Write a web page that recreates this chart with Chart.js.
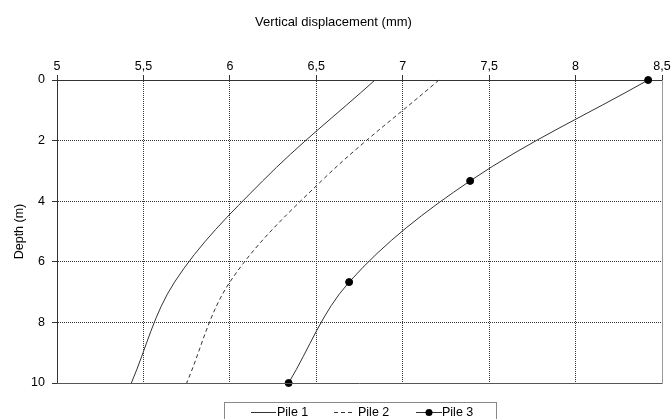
<!DOCTYPE html>
<html>
<head>
<meta charset="utf-8">
<script src="https://cdn.jsdelivr.net/npm/chart.js@4.4.1/dist/chart.umd.min.js"></script>
<style>
html, body { margin: 0; padding: 0; background: #fff; }
#wrap { width: 672px; height: 419px; }
</style>
</head>
<body>
<div id="wrap"><canvas id="pileChart"></canvas></div>
<script>
// depth of each reading (m) and vertical displacement (mm) per pile
const depths = [0, 3.33, 6.67, 10];
const pile1 = [6.84, 6.19, 5.68, 5.43];
const pile2 = [7.21, 6.53, 6.00, 5.75];
const pile3 = [8.42, 7.39, 6.69, 6.34];
const seriesNames = ['Pile 1', 'Pile 2', 'Pile 3'];
const xTicks = [5, 5.5, 6, 6.5, 7, 7.5, 8, 8.5];
const yTicks = [0, 2, 4, 6, 8, 10];

const FONT = '"Liberation Sans", Arial, sans-serif';

function toPoints(values) {
    return depths.map((d, i) => ({ x: values[i], y: d }));
}

// solid right/bottom edge of the plot area
const plotFrame = {
    id: 'plotFrame',
    afterDatasetsDraw(chart) {
        const { ctx, chartArea } = chart;
        const yb = Math.round(chart.scales.y.getPixelForValue(10)) + 0.5;
        const xr = Math.round(chart.scales.x.getPixelForValue(8.5)) + 0.5;
        ctx.save();
        ctx.lineWidth = 1;
        ctx.strokeStyle = '#555';
        ctx.beginPath();
        ctx.moveTo(chartArea.left, yb);
        ctx.lineTo(xr, yb);
        ctx.stroke();
        ctx.strokeStyle = '#999';
        ctx.beginPath();
        ctx.moveTo(xr, chartArea.top);
        ctx.lineTo(xr, yb);
        ctx.stroke();
        ctx.restore();
    }
};

// boxed legend under the plot, like the spreadsheet one
const boxLegend = {
    id: 'boxLegend',
    afterDraw(chart) {
        const { ctx, chartArea } = chart;
        const cx = (chartArea.left + chartArea.right) / 2;
        const left = Math.round(cx - 136), top = Math.round(chartArea.bottom + 19);
        const starts = [27, 110, 192];
        const lens = [25, 19, 26];
        const gaps = [26, 24, 26];
        ctx.save();
        ctx.lineWidth = 1;
        ctx.strokeStyle = '#888';
        ctx.strokeRect(left + 0.5, top + 0.5, 272, 30);
        ctx.font = '12.5px ' + FONT;
        ctx.textBaseline = 'middle';
        chart.data.datasets.forEach((ds, i) => {
            const x = left + starts[i], y = top + 10.5;
            ctx.strokeStyle = ds.borderColor;
            ctx.setLineDash(ds.borderDash || []);
            ctx.beginPath();
            ctx.moveTo(x, y);
            ctx.lineTo(x + lens[i], y);
            ctx.stroke();
            ctx.setLineDash([]);
            if (ds.pointRadius) {
                ctx.fillStyle = ds.pointBackgroundColor;
                ctx.beginPath();
                ctx.arc(x + 13, y, ds.pointRadius, 0, Math.PI * 2);
                ctx.fill();
            }
            ctx.fillStyle = '#000';
            ctx.fillText(ds.label, x + gaps[i], y);
        });
        ctx.restore();
    }
};

const ctx = document.getElementById('pileChart').getContext('2d');
new Chart(ctx, {
    type: 'scatter',
    data: {
        datasets: [{
            label: seriesNames[0],
            data: toPoints(pile1),
            showLine: true,
            borderColor: '#333',
            borderWidth: 1,
            pointRadius: 0,
            tension: 0.35,
            clip: false
        }, {
            label: seriesNames[1],
            data: toPoints(pile2),
            showLine: true,
            borderColor: '#333',
            borderWidth: 1,
            borderDash: [4, 3],
            pointRadius: 0,
            tension: 0.35,
            clip: false
        }, {
            label: seriesNames[2],
            data: toPoints(pile3),
            showLine: true,
            borderColor: '#333',
            borderWidth: 1,
            pointRadius: 3.5,
            pointBackgroundColor: '#000',
            pointBorderColor: '#000',
            tension: 0.35,
            clip: false
        }]
    },
    options: {
        responsive: true,
        maintainAspectRatio: false,
        animation: false,
        layout: { padding: { left: 5, right: 10, top: 0, bottom: 36 } },
        scales: {
            x: {
                type: 'linear',
                position: 'top',
                min: 5,
                max: 8.5,
                afterBuildTicks: (scale) => { scale.ticks = xTicks.map(v => ({ value: v })); },
                afterFit: (scale) => { scale.height = 80 - 30.6; },
                ticks: {
                    color: '#000',
                    padding: 1,
                    font: { family: FONT, size: 12.5 },
                    callback: (v) => String(v).replace('.', ',')
                },
                grid: { color: '#333', tickLength: 5 },
                border: { display: true, color: '#333', width: 1, dash: [1, 1] }
            },
            y: {
                type: 'linear',
                reverse: true,
                min: 0,
                max: 10,
                afterBuildTicks: (scale) => { scale.ticks = yTicks.map(v => ({ value: v })); },
                afterFit: (scale) => { scale.width = 52; },
                ticks: {
                    color: '#000',
                    padding: 7,
                    font: { family: FONT, size: 12.5 }
                },
                grid: { color: '#333', tickLength: 5 },
                border: { display: true, color: '#333', width: 1, dash: [1, 1] },
                title: {
                    display: true,
                    text: 'Depth (m)',
                    color: '#000',
                    padding: { top: 7, bottom: 0 },
                    font: { family: FONT, size: 12.5 }
                }
            }
        },
        plugins: {
            legend: { display: false },
            tooltip: { enabled: false },
            title: {
                display: true,
                text: 'Vertical displacement (mm)',
                color: '#000',
                padding: { top: 15, bottom: 0 },
                font: { family: FONT, size: 13, weight: 'normal' }
            }
        }
    },
    plugins: [plotFrame, boxLegend]
});
</script>
</body>
</html>
